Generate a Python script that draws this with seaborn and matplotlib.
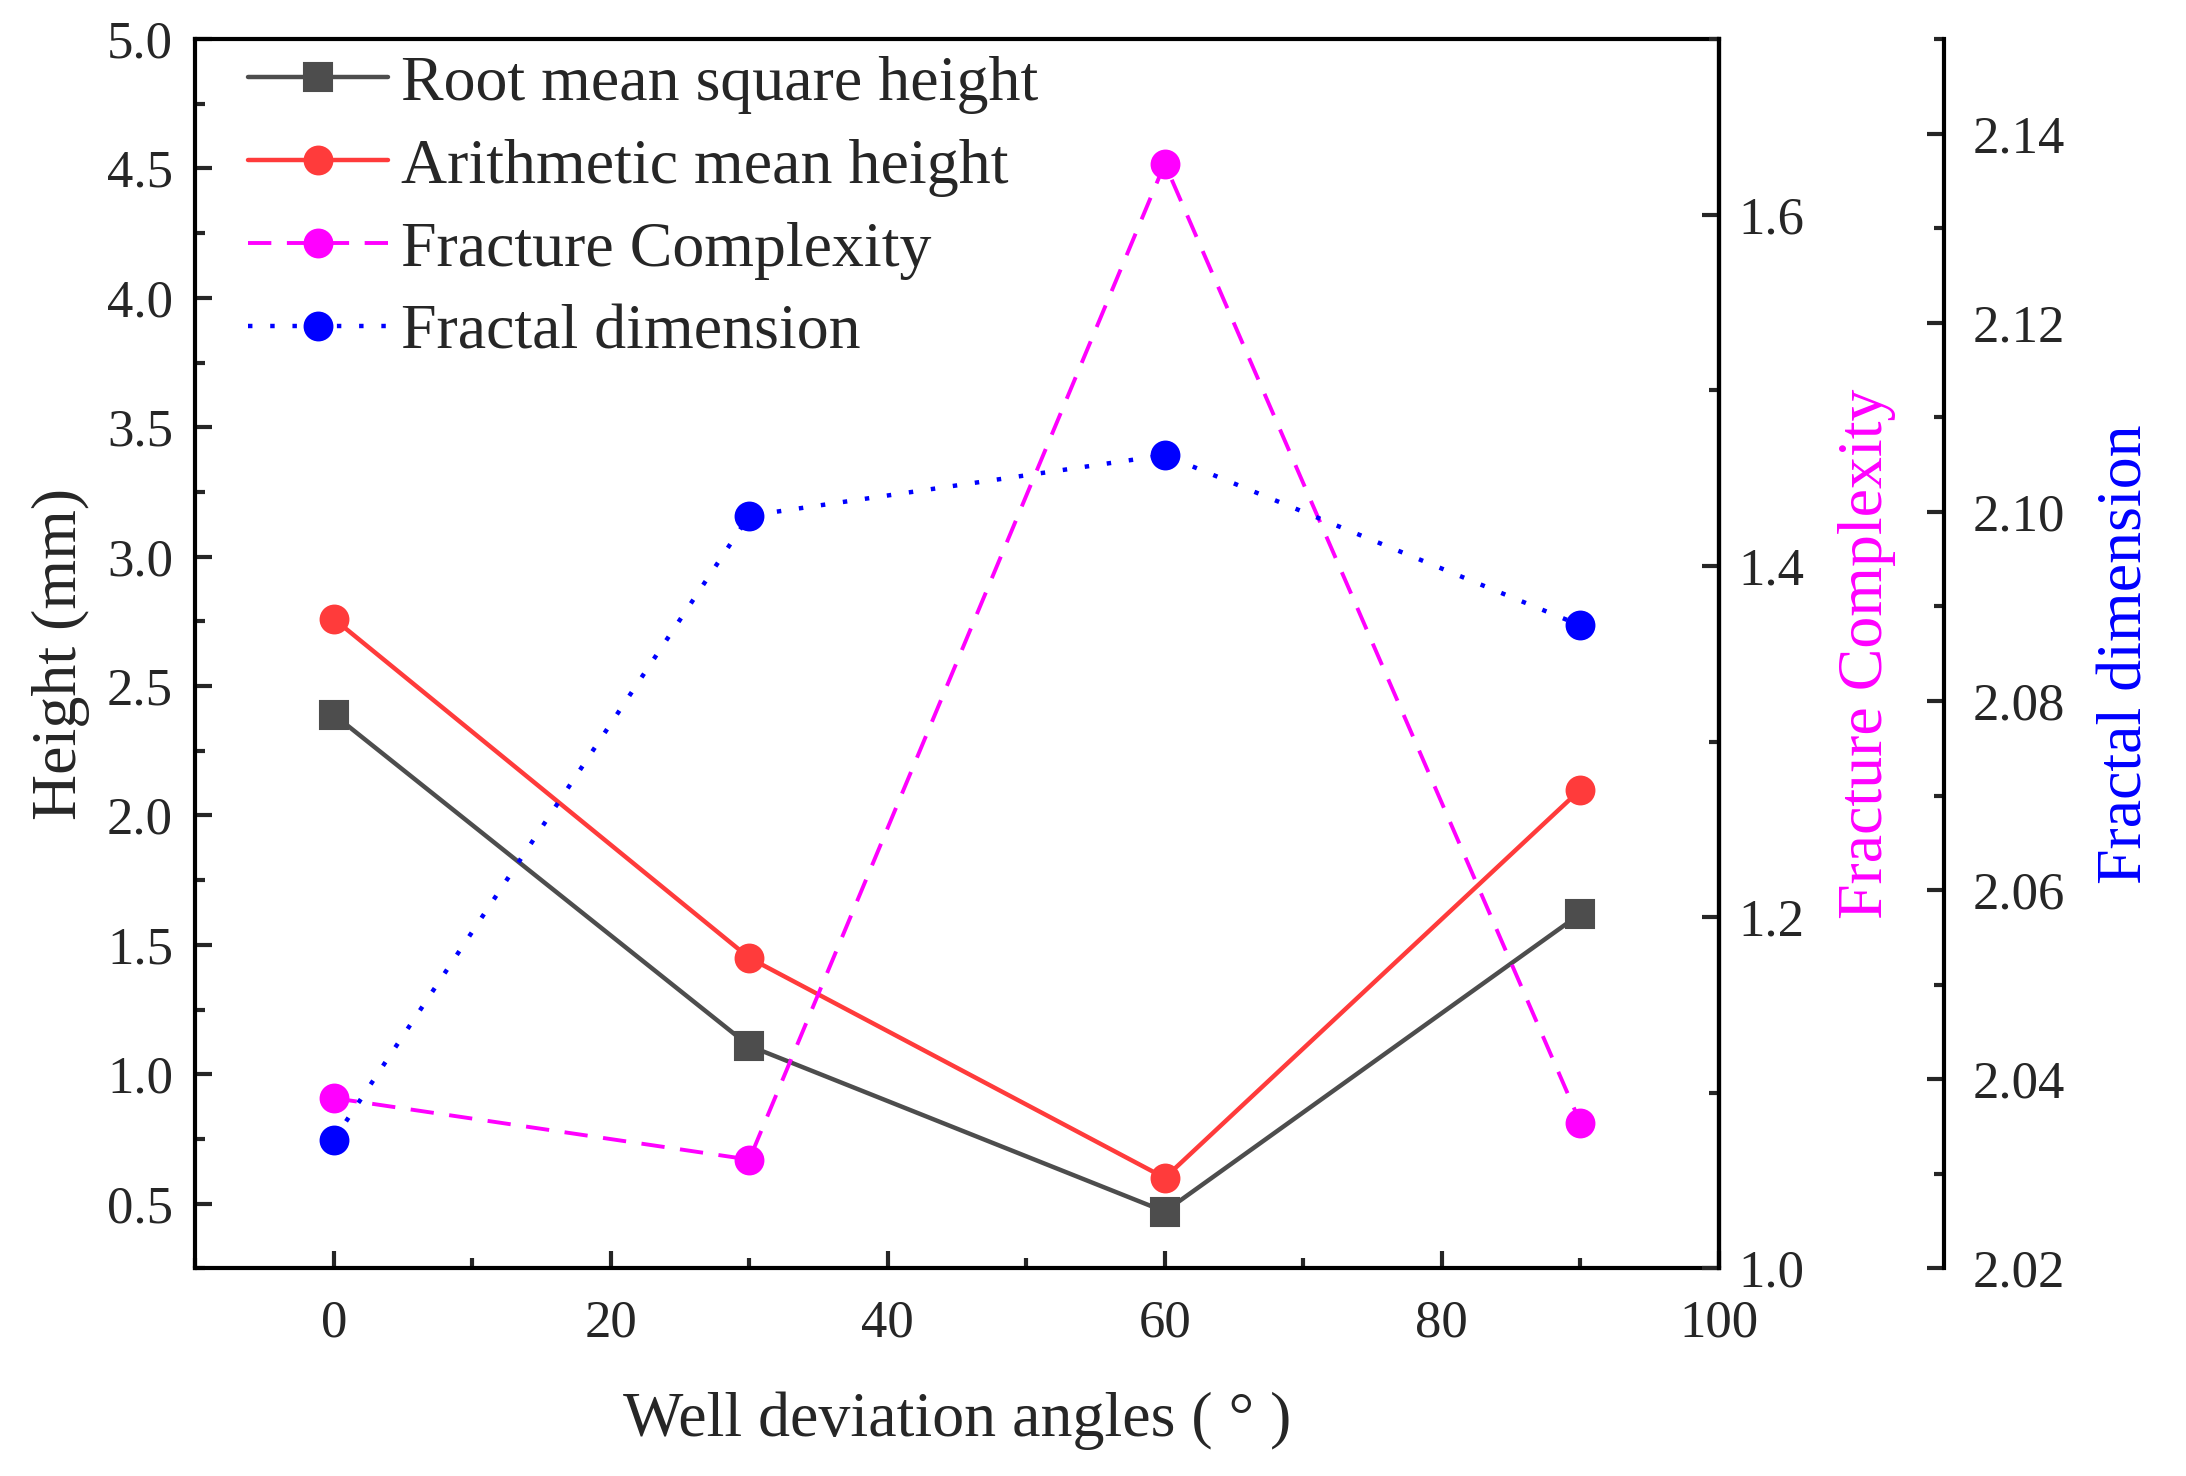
import matplotlib
matplotlib.use('Agg')
import matplotlib.pyplot as plt
from matplotlib.ticker import MultipleLocator
import seaborn as sns

# values
angles = [0, 30, 60, 90]
rms_height = [2.39, 1.11, 0.47, 1.62]
mean_height = [2.76, 1.45, 0.60, 2.10]
complexity = [1.097, 1.062, 1.629, 1.083]
fractal_dim = [2.0336, 2.0996, 2.106, 2.088]

sns.set_theme(style='ticks')
plt.rcParams['font.family'] = ['Liberation Serif', 'DejaVu Serif']
plt.rcParams['axes.linewidth'] = 1.5

fig = plt.figure(figsize=(10.93, 7.38), dpi=200, facecolor='white')
ax1 = fig.add_axes([0.0893, 0.1406, 0.697, 0.833])
ax2 = ax1.twinx()
ax3 = ax1.twinx()
ax3.spines['right'].set_position(('axes', 1.148))

# height curves on the left axis
sns.lineplot(x=angles, y=rms_height, ax=ax1, color='#4d4d4d', marker='s', markersize=10,
             markeredgecolor='#4d4d4d', linewidth=1.6, label='Root mean square height')
sns.lineplot(x=angles, y=mean_height, ax=ax1, color='#ff3b3b', marker='o', markersize=10,
             markeredgecolor='#ff3b3b', linewidth=1.6, label='Arithmetic mean height')
# fracture complexity on the first right axis
sns.lineplot(x=angles, y=complexity, ax=ax2, color='#ff00ff', marker='o', markersize=10,
             markeredgecolor='#ff00ff', linewidth=1.4, linestyle=(0, (6, 4)), label='Fracture Complexity')
# fractal dimension on the second right axis
sns.lineplot(x=angles, y=fractal_dim, ax=ax3, color='#0000ff', marker='o', markersize=10,
             markeredgecolor='#0000ff', linewidth=1.6, linestyle=(0, (1, 4)), label='Fractal dimension')

ax1.set_xlim(-10, 100)
ax1.set_ylim(0.25, 5.0)
ax2.set_ylim(1.0, 1.7)
ax3.set_ylim(2.02, 2.15)

ax1.xaxis.set_major_locator(MultipleLocator(20))
ax1.xaxis.set_minor_locator(MultipleLocator(10))
ax1.yaxis.set_major_locator(MultipleLocator(0.5))
ax1.yaxis.set_minor_locator(MultipleLocator(0.25))
ax2.yaxis.set_major_locator(MultipleLocator(0.2))
ax2.yaxis.set_minor_locator(MultipleLocator(0.1))
ax3.yaxis.set_major_locator(MultipleLocator(0.02))
ax3.yaxis.set_minor_locator(MultipleLocator(0.01))
ax1.yaxis.set_major_formatter('{x:.1f}')
ax2.yaxis.set_major_formatter('{x:.1f}')
ax3.yaxis.set_major_formatter('{x:.2f}')

ax1.tick_params(axis='both', which='both', direction='in', top=False, right=False,
                labelsize=19, width=1.5)
ax1.tick_params(axis='both', which='major', length=6)
ax1.tick_params(axis='both', which='minor', length=3.5)
ax1.tick_params(axis='y', pad=8)
ax1.tick_params(axis='x', pad=11)
for ax, pad in [(ax2, 7), (ax3, 10)]:
    ax.tick_params(axis='y', which='both', direction='in', labelsize=19, width=1.5, pad=pad)
    ax.tick_params(axis='y', which='major', length=6)
    ax.tick_params(axis='y', which='minor', length=3.5)
    for side in ['top', 'bottom', 'left']:
        ax.spines[side].set_visible(False)
for ax in [ax1, ax2, ax3]:
    for sp in ax.spines.values():
        sp.set_linewidth(1.5)
        sp.set_color('black')

ax1.set_xlabel('Well deviation angles ( ° )', fontsize=23, labelpad=16)
ax1.set_ylabel('Height (mm)', fontsize=23, labelpad=6)
ax2.set_ylabel('Fracture Complexity', fontsize=23, color='#ff00ff', labelpad=12)
ax3.set_ylabel('Fractal dimension', fontsize=23, color='#0000ff', labelpad=12)

# one legend for all four series
handles, labels = [], []
for ax in [ax1, ax2, ax3]:
    h, l = ax.get_legend_handles_labels()
    handles += h
    labels += l
    if ax.get_legend() is not None:
        ax.get_legend().remove()
ax3.legend(handles, labels, loc='upper left', bbox_to_anchor=(0.024, 1.0), frameon=False,
           fontsize=23, handlelength=2.2, handletextpad=0.2, labelspacing=0.38,
           borderaxespad=0.0, borderpad=0.25)

fig.savefig('out.png', dpi=200, facecolor='white')
